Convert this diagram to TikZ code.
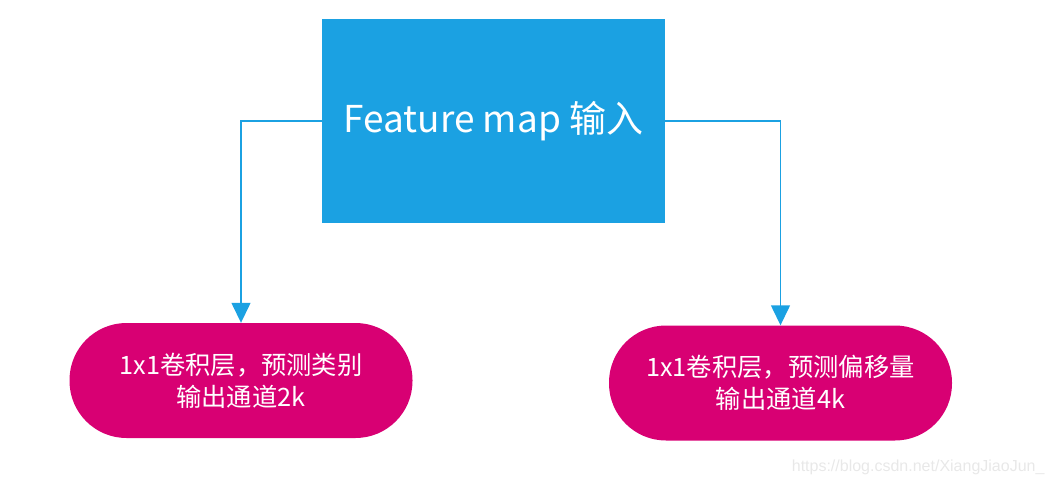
\documentclass[tikz,border=0pt]{standalone}
\usepackage{fontspec}
\setmainfont{Noto Sans CJK SC}
\newfontfamily\wmfont{Liberation Sans}
\usetikzlibrary{arrows.meta}
\definecolor{mblue}{HTML}{1BA1E2}
\definecolor{mmag}{HTML}{D80073}
\definecolor{wmgray}{HTML}{E8E8E8}
\tikzset{
  inbox/.style={fill=mblue, draw=none, minimum width=343pt, minimum height=204pt, inner sep=0pt, text=white, font=\fontsize{37}{41}\selectfont},
  pill/.style={fill=mmag, draw=none, rounded corners=57pt, minimum width=343pt, minimum height=115pt, inner sep=0pt, text=white, align=center, font=\fontsize{25.3}{32}\selectfont},
  conn/.style={draw=mblue, line width=1.4pt, -{Triangle[length=20pt,width=19pt]}},
}
\begin{document}
\begin{tikzpicture}[x=1pt,y=-1pt]
\useasboundingbox (0,0) rectangle (1055,488);
\node[inbox] (in) at (493.5,121) {Feature map 输入};
\node[pill] (cls) at (241,380.5) {1x1卷积层，预测类别\\输出通道2k};
\node[pill] (reg) at (780.5,383) {1x1卷积层，预测偏移量\\输出通道4k};
\draw[conn] (in.west) -| (cls.north);
\draw[conn] (in.east) -| (reg.north);
\node[text=wmgray, font=\wmfont\fontsize{16}{18}\selectfont, anchor=east] (wm) at (1048,467) {https://blog.csdn.net/XiangJiaoJun\_};
\end{tikzpicture}
\end{document}
